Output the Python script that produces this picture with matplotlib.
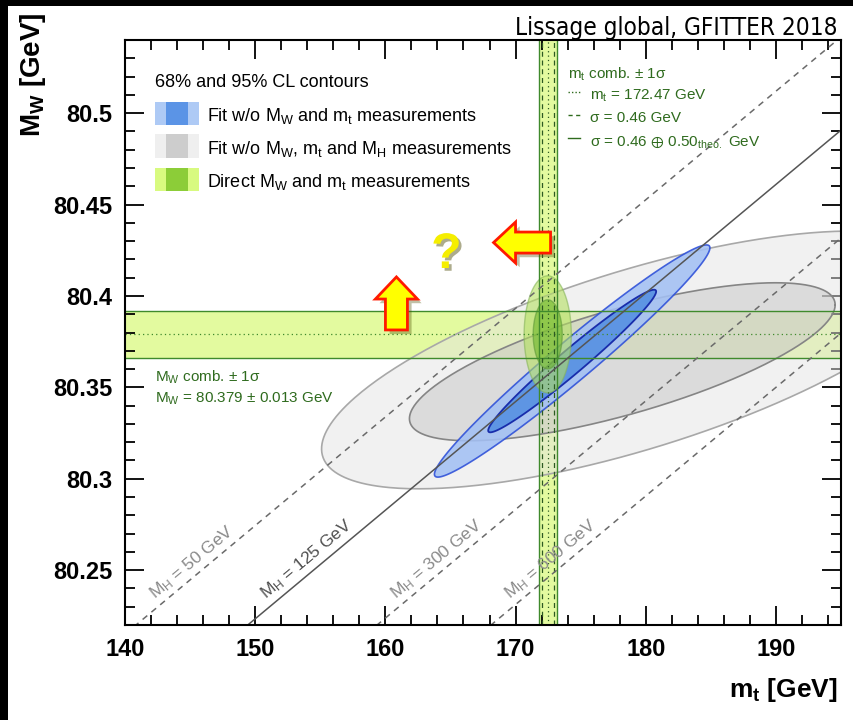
import matplotlib
matplotlib.use('Agg')
import matplotlib.pyplot as plt
import numpy as np
from matplotlib.patches import Rectangle, FancyArrow
from matplotlib import patheffects as pe
from matplotlib.ticker import MultipleLocator

plt.rcParams['font.family'] = ['Liberation Sans', 'DejaVu Sans']
plt.rcParams['mathtext.default'] = 'regular'

# direct measurements
mt_comb, mt_err_exp, mt_err_theo = 172.47, 0.46, 0.50
mw_comb, mw_err = 80.379, 0.013

# contours: [95%, 68%] -> centre, half extent in mt and MW, correlation
grey_mt = [179.2, 178.2]
grey_mw = [80.365, 80.364]
grey_dmt = [24.1, 16.35]
grey_dmw = [0.0705, 0.0432]
grey_rho = [0.69, 0.72]

blue_mt = [174.35, 174.35]
blue_mw = [80.3644, 80.3644]
blue_dmt = [10.58, 6.45]
blue_dmw = [0.0635, 0.0390]
blue_rho = [0.975, 0.975]

green_dmt = [1.81, 1.115]
green_dmw = [0.032, 0.0189]

# SM prediction lines for fixed Higgs mass
mh_values = [50, 125, 300, 600]
mh_mw_at_173 = [80.411, 80.360, 80.301, 80.249]
mh_slope = 0.00594

green_txt = '#2f6b1e'
band_fill = '#cdf750'
band_line = '#3f8a2c'


def ellipse(mt0, mw0, dmt, dmw, rho, n=400):
    t = np.linspace(0, 2 * np.pi, n)
    x = mt0 + dmt * np.cos(t)
    y = mw0 + dmw * (rho * np.cos(t) + np.sqrt(1 - rho ** 2) * np.sin(t))
    return x, y


fig = plt.figure(figsize=(8.54, 7.2), dpi=100)
ax = fig.add_axes([125 / 854, 95 / 720, 716 / 854, 585 / 720])
ax.set_xlim(140, 195)
ax.set_ylim(80.22, 80.54)

# bands for the direct measurements
ax.axhspan(mw_comb - mw_err, mw_comb + mw_err, color=band_fill, alpha=0.55, lw=0, zorder=1)
mt_err_tot = np.hypot(mt_err_exp, mt_err_theo)
ax.axvspan(mt_comb - mt_err_tot, mt_comb + mt_err_tot, color=band_fill, alpha=0.55, lw=0, zorder=1)

# fit without MW, mt and MH
x, y = ellipse(grey_mt[0], grey_mw[0], grey_dmt[0], grey_dmw[0], grey_rho[0])
ax.fill(x, y, fc='#e4e4e4', alpha=0.5, ec='none', zorder=2)
ax.plot(x, y, color='#a8a8a8', lw=1.2, zorder=2)
x, y = ellipse(grey_mt[1], grey_mw[1], grey_dmt[1], grey_dmw[1], grey_rho[1])
ax.fill(x, y, fc='#c6c6c6', alpha=0.5, ec='none', zorder=3)
ax.plot(x, y, color='#858585', lw=1.2, zorder=3)

# fit without MW and mt
x, y = ellipse(blue_mt[0], blue_mw[0], blue_dmt[0], blue_dmw[0], blue_rho[0])
ax.fill(x, y, fc='#a3c0f4', alpha=0.88, ec='#2d4fd8', lw=1.2, zorder=4)
x, y = ellipse(blue_mt[1], blue_mw[1], blue_dmt[1], blue_dmw[1], blue_rho[1])
ax.fill(x, y, fc='#5a93e3', alpha=0.95, ec='#1326a8', lw=1.3, zorder=5)

# direct measurement contours
x, y = ellipse(mt_comb, mw_comb, green_dmt[0], green_dmw[0], 0.0)
ax.fill(x, y, fc='#b4e060', alpha=0.6, ec='#86b45a', lw=1.0, zorder=6)
x, y = ellipse(mt_comb, mw_comb, green_dmt[1], green_dmw[1], 0.0)
ax.fill(x, y, fc='#6cb52a', alpha=0.6, ec='#5f9a3a', lw=1.0, zorder=7)

# band edges and central values
for v in (mw_comb - mw_err, mw_comb + mw_err):
    ax.axhline(v, color=band_line, lw=1.0, zorder=8)
ax.axhline(mw_comb, color=band_line, lw=0.9, ls=(0, (1, 2.5)), zorder=8)
for v in (mt_comb - mt_err_tot, mt_comb + mt_err_tot):
    ax.axvline(v, color=band_line, lw=1.0, zorder=8)
for v in (mt_comb - mt_err_exp, mt_comb + mt_err_exp):
    ax.axvline(v, color='#2c5a22', lw=0.9, ls=(0, (4, 3)), zorder=8)
ax.axvline(mt_comb, color='#2c5a22', lw=0.9, ls=(0, (1, 2.5)), zorder=8)

# SM lines for fixed MH
mt_line = np.linspace(140, 195, 50)
fig.canvas.draw()
for mh, mw0 in zip(mh_values, mh_mw_at_173):
    mw_line = mw0 + mh_slope * (mt_line - 173)
    solid = mh == 125
    ax.plot(mt_line, mw_line, color='#555555' if solid else '#6a6a6a',
            lw=1.1, ls='-' if solid else (0, (4, 3.5)), zorder=9)
    p0 = ax.transData.transform((mt_line[0], mw_line[0]))
    p1 = ax.transData.transform((mt_line[-1], mw_line[-1]))
    ang = np.degrees(np.arctan2(p1[1] - p0[1], p1[0] - p0[0]))
    mw_lab = 80.228
    mt_lab = 173 + (mw_lab - mw0) / mh_slope
    ax.annotate('M$_H$ = %d GeV' % mh, xy=(mt_lab, mw_lab), xytext=(3, 5),
                textcoords='offset points', rotation=ang, rotation_mode='anchor',
                ha='left', va='bottom', fontsize=12.5,
                color='#505050' if solid else '#8a8a8a', zorder=9)

# legend
ax.text(0.042, 0.9316, '68% and 95% CL contours', transform=ax.transAxes,
        fontsize=13, va='center_baseline', zorder=10)
leg_rows = [
    ('Fit w/o M$_W$ and m$_t$ measurements', '#aecaf5', '#5b94e6', 0.875),
    ('Fit w/o M$_W$, m$_t$ and M$_H$ measurements', '#efefef', '#cdcdcd', 0.8188),
    ('Direct M$_W$ and m$_t$ measurements', '#d8fa80', '#8ccd38', 0.761),
]
for label, c_out, c_in, yc in leg_rows:
    ax.add_patch(Rectangle((0.0419, yc - 0.0197), 0.0615, 0.0394, transform=ax.transAxes,
                           fc=c_out, ec='none', zorder=10))
    ax.add_patch(Rectangle((0.0573, yc - 0.0197), 0.0307, 0.0394, transform=ax.transAxes,
                           fc=c_in, ec='none', zorder=10))
    ax.text(0.1145, yc, label, transform=ax.transAxes, fontsize=13,
            va='center_baseline', zorder=10)

# top quark band description
ax.text(0.6187, 0.9453, 'm$_t$ comb. ± 1σ', transform=ax.transAxes, fontsize=11,
        color=green_txt, va='center_baseline', zorder=10)
mt_rows = [
    ('m$_t$ = %.2f GeV' % mt_comb, (0, (1, 1.5)), 0.9077),
    ('σ = %.2f GeV' % mt_err_exp, (0, (3, 2.5)), 0.8684),
    ('σ = %.2f $\\oplus$ %.2f$_{theo.}$ GeV' % (mt_err_exp, mt_err_theo), '-', 0.829),
]
for label, ls, yc in mt_rows:
    ax.plot([0.6187, 0.6355], [yc + 0.004, yc + 0.004], transform=ax.transAxes,
            color=green_txt, lw=1.0, ls=ls, zorder=10)
    ax.text(0.6494, yc, label, transform=ax.transAxes, fontsize=11,
            color=green_txt, va='center_baseline', zorder=10)

# W mass band description
ax.text(0.0419, 0.4274, 'M$_W$ comb. ± 1σ', transform=ax.transAxes, fontsize=11,
        color=green_txt, va='center_baseline', zorder=10)
ax.text(0.0419, 0.3897, 'M$_W$ = %.3f ± %.3f GeV' % (mw_comb, mw_err), transform=ax.transAxes,
        fontsize=11, color=green_txt, va='center_baseline', zorder=10)

# highlight arrows and question mark
shadow = [pe.SimplePatchShadow(offset=(3, -3), alpha=0.35), pe.Normal()]
up = FancyArrow(160.85, 80.3814, 0, 0.029, width=1.69, head_width=3.23, head_length=0.0121,
                length_includes_head=True, fc='#ffff00', ec='#ff1a00', lw=2, zorder=11)
up.set_path_effects(shadow)
ax.add_patch(up)
left = FancyArrow(172.69, 80.4292, -4.38, 0, width=0.0115, head_width=0.0224, head_length=1.69,
                  length_includes_head=True, fc='#ffff00', ec='#ff1a00', lw=2, zorder=11)
left.set_path_effects(shadow)
ax.add_patch(left)
ax.text(164.69, 80.4224, '?', fontsize=36, fontweight='bold', color='#f5ee00',
        ha='center', va='center', zorder=11,
        path_effects=[pe.withSimplePatchShadow(offset=(2, -2), alpha=0.45)])

# axes styling
ax.xaxis.set_major_locator(MultipleLocator(10))
ax.xaxis.set_minor_locator(MultipleLocator(2))
ax.yaxis.set_major_locator(MultipleLocator(0.05))
ax.yaxis.set_minor_locator(MultipleLocator(0.01))
ax.yaxis.set_major_formatter(matplotlib.ticker.FuncFormatter(lambda v, p: ('%.2f' % v).rstrip('0')))
ax.tick_params(which='both', direction='in', top=True, right=True, width=1.3)
ax.tick_params(which='major', length=14, labelsize=17, pad=9)
ax.tick_params(which='minor', length=7)
for lab in ax.get_xticklabels() + ax.get_yticklabels():
    lab.set_fontweight('bold')
for s in ax.spines.values():
    s.set_linewidth(1.5)
    s.set_zorder(12)

fig.text(0.0386, 1 - 12 / 720, 'M$_W$ [GeV]', rotation=90, ha='center', va='top',
         fontsize=20, fontweight='bold')
fig.text(838 / 854, 0.032, 'm$_t$ [GeV]', ha='right', va='baseline', fontsize=19, fontweight='bold')
fig.text(838 / 854, 1 - 35 / 720, 'Lissage global, GFITTER 2018', ha='right', va='baseline',
         fontsize=17.5, family=['DejaVu Sans'], fontstretch='condensed')

# dark frame strips on the left and top
fig.patches.append(Rectangle((0, 0), 8 / 854, 1, transform=fig.transFigure, fc='black', ec='none'))
fig.patches.append(Rectangle((0, 1 - 6 / 720), 1, 6 / 720, transform=fig.transFigure, fc='black', ec='none'))

fig.savefig('out.png', dpi=100)
